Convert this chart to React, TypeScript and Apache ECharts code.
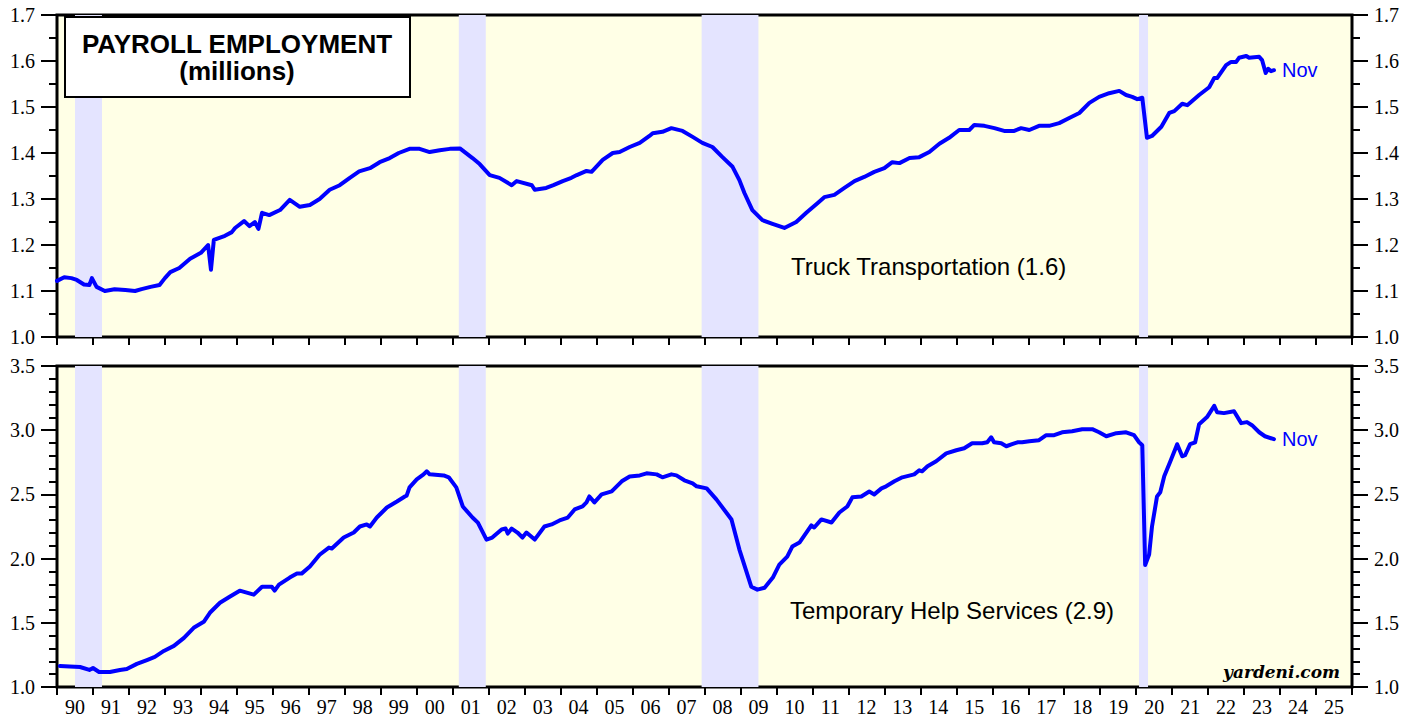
import React, { useEffect, useRef } from "react";
import * as echarts from "echarts";

// Year labels along the bottom axis (1990 .. 2025)
const yearLabels = [
  "90","91","92","93","94","95","96","97","98","99","00","01","02","03","04","05","06","07",
  "08","09","10","11","12","13","14","15","16","17","18","19","20","21","22","23","24","25",
];

// Recession periods (decimal years)
const recessions: [number, number][] = [
  [1990.5, 1991.25],
  [2001.17, 2001.92],
  [2007.92, 2009.5],
  [2020.08, 2020.33],
];

// Truck Transportation (millions)
const truckX = [
  1990.0,1990.2,1990.4,1990.55,1990.75,1990.9,1990.97,1991.1,1991.33,1991.6,1991.9,1992.17,1992.35,1992.6,1992.85,
  1993.0,1993.15,1993.4,1993.7,1994.0,1994.2,1994.28,1994.36,1994.67,1994.86,1994.95,1995.2,1995.35,1995.5,1995.6,
  1995.7,1995.9,1996.2,1996.47,1996.75,1997.03,1997.3,1997.58,1997.86,1998.14,1998.4,1998.7,1998.97,1999.25,1999.5,
  1999.8,2000.08,2000.36,2000.64,2000.92,2001.2,2001.55,2001.75,2002.03,2002.3,2002.64,2002.78,2003.2,2003.28,2003.6,
  2003.8,2004.06,2004.3,2004.45,2004.72,2004.86,2005.17,2005.45,2005.64,2005.92,2006.2,2006.47,2006.56,2006.83,2007.08,2007.39,
  2007.67,2007.94,2008.22,2008.5,2008.78,2008.97,2009.11,2009.33,2009.61,2009.89,2010.22,2010.55,2010.83,2011.14,
  2011.33,2011.61,2011.89,2012.17,2012.44,2012.72,2013.0,2013.22,2013.42,2013.7,2013.97,2014.25,2014.53,2014.8,
  2015.08,2015.36,2015.5,2015.78,2016.06,2016.33,2016.61,2016.8,2017.03,2017.3,2017.58,2017.86,2018.14,2018.42,
  2018.7,2018.97,2019.25,2019.53,2019.72,2019.89,2020.03,2020.17,2020.3,2020.44,2020.7,2020.92,2021.06,2021.28,
  2021.42,2021.75,2022.03,2022.17,2022.25,2022.5,2022.64,2022.78,2022.86,2023.06,2023.14,2023.42,2023.5,2023.6,
  2023.67,2023.75,2023.83,
];
const truckY = [
  1.122,1.130,1.128,1.124,1.114,1.113,1.128,1.109,1.100,1.104,1.102,1.100,1.104,1.109,1.113,
  1.128,1.141,1.150,1.170,1.183,1.200,1.146,1.211,1.220,1.228,1.237,1.252,1.241,1.250,1.235,
  1.270,1.265,1.276,1.298,1.283,1.287,1.300,1.320,1.330,1.346,1.360,1.367,1.380,1.389,1.400,
  1.409,1.409,1.402,1.406,1.409,1.410,1.389,1.376,1.352,1.346,1.330,1.339,1.330,1.320,1.324,
  1.330,1.339,1.346,1.352,1.361,1.359,1.385,1.400,1.402,1.413,1.422,1.437,1.443,1.446,1.454,1.448,
  1.435,1.422,1.413,1.391,1.370,1.341,1.313,1.276,1.254,1.246,1.237,1.250,1.270,1.291,
  1.304,1.309,1.324,1.339,1.348,1.359,1.367,1.380,1.378,1.389,1.391,1.402,1.420,1.433,
  1.450,1.450,1.461,1.459,1.454,1.448,1.448,1.454,1.450,1.459,1.459,1.465,1.476,1.487,
  1.509,1.522,1.530,1.535,1.526,1.522,1.517,1.520,1.433,1.437,1.457,1.487,1.491,1.507,
  1.504,1.526,1.543,1.563,1.563,1.591,1.598,1.598,1.607,1.611,1.607,1.609,1.602,1.574,
  1.583,1.578,1.580,
];

// Temporary Help Services (millions)
const tempX = [
  1990.08,1990.35,1990.64,1990.9,1991.0,1991.17,1991.47,1991.75,1991.94,1992.22,1992.5,1992.72,1992.97,1993.25,
  1993.53,1993.8,1994.08,1994.25,1994.53,1994.8,1995.08,1995.47,1995.7,1995.97,1996.05,1996.17,1996.47,1996.67,
  1996.8,1997.03,1997.3,1997.56,1997.64,1997.97,1998.25,1998.42,1998.61,1998.7,1998.89,1999.17,1999.45,1999.67,
  1999.72,1999.8,2000.0,2000.19,2000.28,2000.36,2000.75,2000.89,2001.1,2001.28,2001.55,2001.7,2001.94,2002.1,
  2002.36,2002.47,2002.53,2002.64,2002.8,2002.94,2003.05,2003.28,2003.55,2003.75,2003.97,2004.2,2004.39,2004.61,
  2004.72,2004.8,2004.94,2005.14,2005.42,2005.7,2005.92,2006.2,2006.39,2006.67,2006.83,2007.08,2007.22,2007.44,
  2007.67,2007.78,2008.06,2008.33,2008.75,2008.97,2009.3,2009.47,2009.67,2009.9,2010.08,2010.3,2010.44,2010.64,
  2010.97,2011.05,2011.25,2011.53,2011.75,2011.97,2012.11,2012.36,2012.58,2012.72,2012.92,2013.05,2013.28,2013.5,
  2013.83,2013.97,2014.05,2014.2,2014.44,2014.72,2015.0,2015.22,2015.44,2015.72,2015.86,2015.97,2016.05,2016.25,
  2016.39,2016.55,2016.7,2016.83,2017.03,2017.3,2017.5,2017.72,2017.94,2018.22,2018.5,2018.78,2018.97,2019.17,
  2019.45,2019.72,2019.94,2020.08,2020.17,2020.25,2020.36,2020.44,2020.58,2020.67,2020.78,2020.94,2021.14,2021.28,
  2021.36,2021.5,2021.64,2021.75,2021.97,2022.17,2022.25,2022.44,2022.72,2022.92,2023.08,2023.22,2023.42,2023.58,
  2023.83,
];
const tempY = [
  1.164,1.160,1.156,1.133,1.148,1.117,1.117,1.133,1.140,1.180,1.210,1.234,1.281,1.320,
  1.383,1.461,1.508,1.578,1.656,1.703,1.750,1.719,1.781,1.781,1.750,1.797,1.852,1.883,
  1.883,1.938,2.030,2.086,2.078,2.164,2.203,2.250,2.266,2.250,2.320,2.398,2.445,2.484,
  2.490,2.555,2.617,2.656,2.680,2.656,2.648,2.633,2.555,2.406,2.320,2.280,2.148,2.164,
  2.227,2.234,2.195,2.234,2.203,2.164,2.203,2.148,2.250,2.266,2.297,2.320,2.383,2.406,
  2.438,2.484,2.438,2.500,2.523,2.602,2.640,2.648,2.664,2.656,2.633,2.656,2.648,2.610,
  2.586,2.563,2.547,2.461,2.305,2.070,1.781,1.758,1.773,1.852,1.953,2.016,2.094,2.125,
  2.258,2.242,2.305,2.281,2.359,2.406,2.477,2.484,2.523,2.500,2.547,2.563,2.602,2.633,
  2.656,2.688,2.680,2.719,2.758,2.820,2.844,2.859,2.898,2.898,2.906,2.945,2.906,2.898,
  2.875,2.891,2.906,2.906,2.914,2.922,2.961,2.961,2.984,2.992,3.008,3.008,2.984,2.953,
  2.977,2.984,2.961,2.906,2.883,1.950,2.031,2.250,2.484,2.516,2.641,2.750,2.891,2.797,
  2.805,2.891,2.906,3.047,3.102,3.190,3.140,3.133,3.148,3.055,3.063,3.039,2.984,2.953,
  2.930,
];

const BLUE = "#0000FF";
const SERIF = "Liberation Serif";
const SANS = "Liberation Sans";

function pairs(xs: number[], ys: number[]) {
  return xs.map((x, i) => [x, ys[i]]);
}

function yAxisDef(grid: number, pos: "left" | "right", min: number, max: number, interval: number, minorSplit: number) {
  return {
    type: "value",
    gridIndex: grid,
    position: pos,
    min,
    max,
    interval,
    axisLine: { show: false },
    splitLine: { show: false },
    axisTick: { show: true, length: 16, lineStyle: { color: "#000", width: 2 } },
    minorTick: { show: true, splitNumber: minorSplit, length: 8, lineStyle: { color: "#000", width: 2 } },
    axisLabel: {
      show: true,
      margin: 22,
      color: "#000",
      fontSize: 20,
      fontFamily: SERIF,
      formatter: (v: number) => v.toFixed(1),
    },
  };
}

function catAxis(grid: number, showLabel: boolean) {
  return {
    type: "category",
    gridIndex: grid,
    position: "bottom",
    data: yearLabels,
    boundaryGap: true,
    axisLine: { show: false },
    axisTick: { show: true, length: 8, alignWithLabel: false, interval: 0, lineStyle: { color: "#000", width: 2 } },
    axisLabel: { show: showLabel, interval: 0, margin: 10, color: "#000", fontSize: 20, fontFamily: SERIF },
    splitLine: { show: false },
  };
}

function valX(grid: number) {
  return { type: "value", gridIndex: grid, min: 1990, max: 2026, show: false };
}

function recessionArea() {
  return {
    silent: true,
    itemStyle: { color: "#E4E4FF" },
    data: recessions.map(([a, b]) => [{ xAxis: a }, { xAxis: b }]),
  };
}

function lineSeries(xIdx: number, yIdx: number, data: number[][]) {
  return {
    type: "line",
    xAxisIndex: xIdx,
    yAxisIndex: yIdx,
    data,
    showSymbol: false,
    symbol: "none",
    lineStyle: { color: BLUE, width: 4, join: "round", cap: "round" },
    itemStyle: { color: BLUE },
    z: 5,
    endLabel: {
      show: true,
      formatter: "Nov",
      color: BLUE,
      fontSize: 20,
      fontFamily: SANS,
      distance: 8,
    },
    markArea: recessionArea(),
  };
}

export default function App() {
  const ref = useRef<HTMLDivElement>(null);
  useEffect(() => {
    if (!ref.current) return;
    const chart = echarts.init(ref.current, null, { renderer: "svg" });
    const gridCommon = {
      show: true,
      backgroundColor: "#FFFFE6",
      borderColor: "#000",
      borderWidth: 3,
      containLabel: false,
    };
    chart.setOption({
      animation: false,
      backgroundColor: "#FFFFFF",
      grid: [
        { ...gridCommon, left: 57, top: 15, width: 1295, height: 322 },
        { ...gridCommon, left: 57, top: 366, width: 1295, height: 321 },
      ],
      xAxis: [valX(0), catAxis(0, false), valX(1), catAxis(1, true)],
      yAxis: [
        yAxisDef(0, "left", 1.0, 1.7, 0.1, 2),
        yAxisDef(0, "right", 1.0, 1.7, 0.1, 2),
        yAxisDef(1, "left", 1.0, 3.5, 0.5, 5),
        yAxisDef(1, "right", 1.0, 3.5, 0.5, 5),
      ],
      series: [
        lineSeries(0, 0, pairs(truckX, truckY)),
        lineSeries(2, 2, pairs(tempX, tempY)),
      ],
      graphic: [
        {
          type: "rect",
          shape: { x: 65, y: 17, width: 345, height: 80 },
          style: { fill: "#FFFFFF", stroke: "#000", lineWidth: 2 },
          z: 20,
        },
        {
          type: "text",
          x: 237,
          y: 44,
          style: {
            text: "PAYROLL EMPLOYMENT",
            fill: "#000",
            font: `bold 26px ${SANS}`,
            textAlign: "center",
            textVerticalAlign: "middle",
          },
          z: 21,
        },
        {
          type: "text",
          x: 237,
          y: 71,
          style: {
            text: "(millions)",
            fill: "#000",
            font: `bold 26px ${SANS}`,
            textAlign: "center",
            textVerticalAlign: "middle",
          },
          z: 21,
        },
        {
          type: "text",
          x: 791,
          y: 266,
          style: {
            text: "Truck Transportation (1.6)",
            fill: "#000",
            font: `24px ${SANS}`,
            textAlign: "left",
            textVerticalAlign: "middle",
          },
          z: 21,
        },
        {
          type: "text",
          x: 790,
          y: 610,
          style: {
            text: "Temporary Help Services (2.9)",
            fill: "#000",
            font: `24px ${SANS}`,
            textAlign: "left",
            textVerticalAlign: "middle",
          },
          z: 21,
        },
        {
          type: "text",
          x: 1340,
          y: 672,
          style: {
            text: "yardeni.com",
            fill: "#000",
            font: `italic bold 17px "DejaVu Serif"`,
            textAlign: "right",
            textVerticalAlign: "middle",
          },
          z: 21,
        },
      ],
    });
    return () => chart.dispose();
  }, []);
  return (
    <div
      ref={ref}
      style={{ position: "fixed", left: 0, top: 0, width: "1417px", height: "719px" }}
    />
  );
}
